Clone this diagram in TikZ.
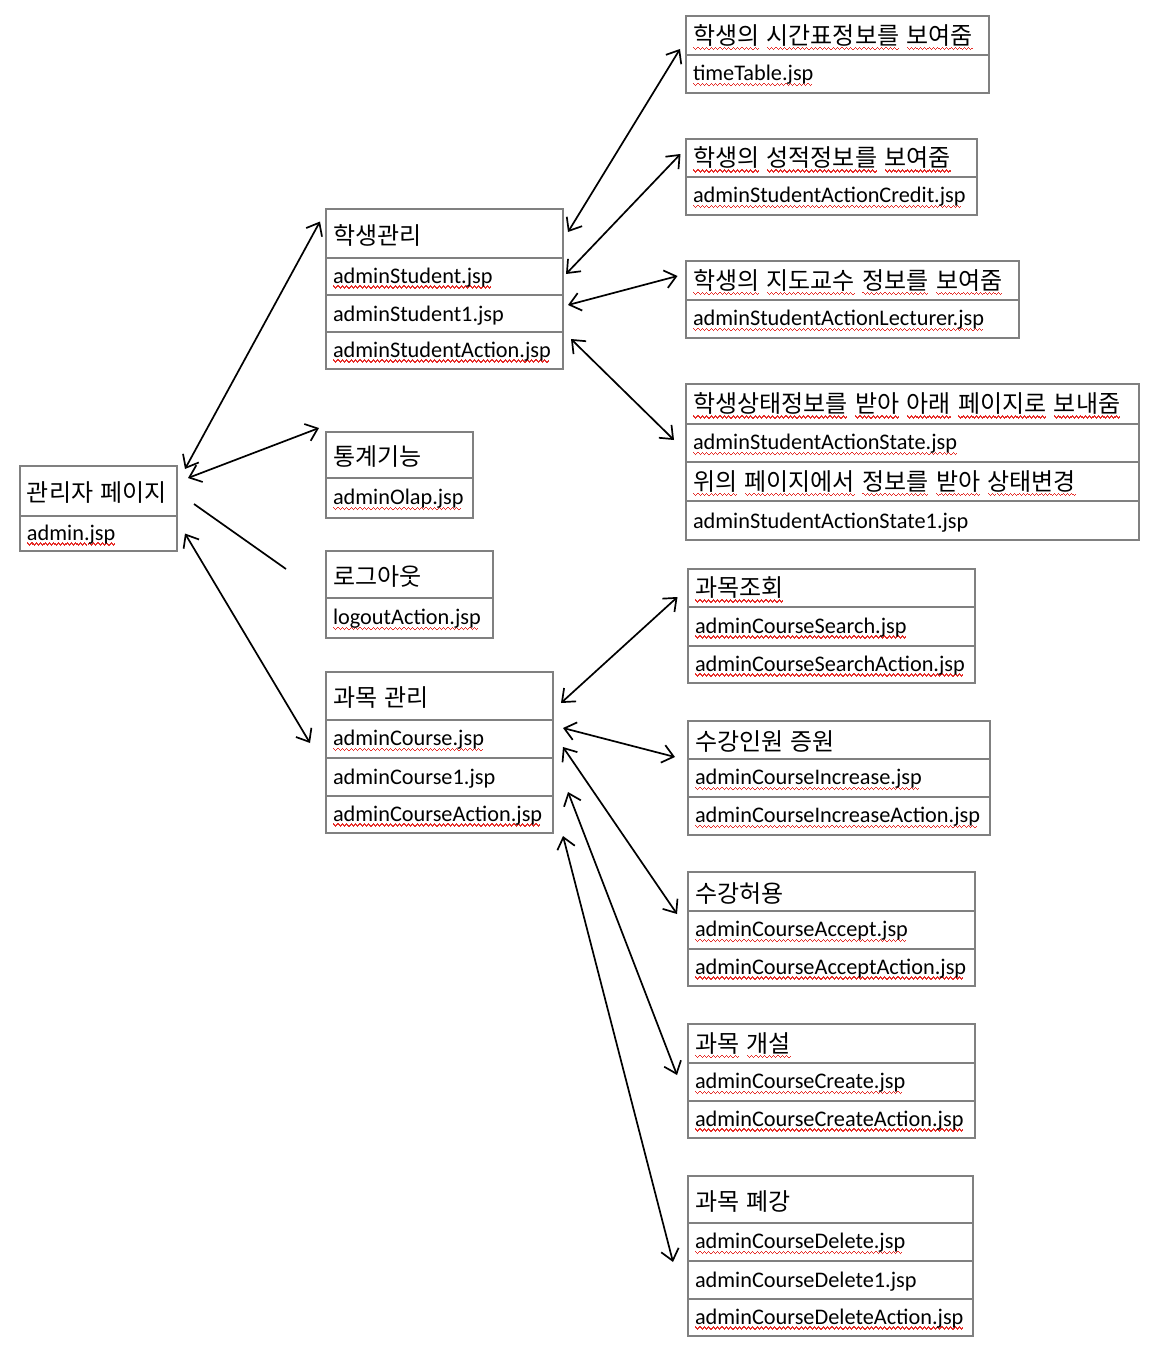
\documentclass[tikz,border=0pt]{standalone}
\usepackage{fontspec}
\setmainfont{Carlito}
\newfontfamily\krfont[WordSpace=1.8]{Noto Sans CJK KR}
\newcommand\kr{\krfont\fontsize{24pt}{28pt}\selectfont}
\usetikzlibrary{arrows.meta,calc}
\definecolor{boxgray}{RGB}{128,128,128}
\definecolor{spellred}{RGB}{230,45,40}
\newsavebox\wavebox
\sbox\wavebox{\color{spellred}%
  \vrule width 1.1pt height -2.3pt depth 3.8pt%
  \vrule width 1.1pt height -3.3pt depth 4.8pt%
  \vrule width 1.1pt height -4.3pt depth 5.8pt%
  \vrule width 1.1pt height -3.3pt depth 4.8pt}
\newbox\rutext
\newcommand\ru[1]{\setbox\rutext\hbox{#1}\rlap{\hbox to\wd\rutext{\leaders\copy\wavebox\hfill}}\box\rutext}
\tikzset{
  cell/.style={draw=boxgray, line width=2.6pt, anchor=north west, inner xsep=7pt,
    inner ysep=0pt, outer sep=0pt, align=left, font=\fontsize{22.3pt}{26pt}\selectfont},
  dbl/.style={draw=black, line width=1.7pt,
    {Straight Barb[length=11pt,width=18pt]}-{Straight Barb[length=11pt,width=18pt]}},
  plain/.style={draw=black, line width=1.7pt}
}
\newcommand\Cell[6]{\node[cell, text width=#4pt, minimum height=#5pt] (#1) at (#2,#3) {\raisebox{-1.8pt}[\height][\depth]{#6}};}
\begin{document}
\begin{tikzpicture}[x=1pt,y=-1pt]
\useasboundingbox (0,0) rectangle (1162,1354);
% admin
\Cell{A1}{20}{466}{143}{50}{{\kr 관리자 페이지}}
\Cell{A2}{20}{516}{143}{35}{\ru{admin.jsp}}
% student management
\Cell{B1}{326}{209}{223}{49}{{\kr 학생관리}}
\Cell{B2}{326}{258}{223}{37}{\ru{adminStudent.jsp}}
\Cell{B3}{326}{295}{223}{37}{adminStudent1.jsp}
\Cell{B4}{326}{332}{223}{37}{\ru{adminStudentAction.jsp}}
% statistics
\Cell{C1}{326}{432}{133}{46}{{\kr 통계기능}}
\Cell{C2}{326}{478}{133}{40}{\ru{adminOlap.jsp}}
% logout
\Cell{D1}{326}{551}{153}{47}{{\kr 로그아웃}}
\Cell{D2}{326}{598}{153}{40}{\ru{logoutAction.jsp}}
% course management
\Cell{E1}{326}{672}{213}{48}{{\kr 과목 관리}}
\Cell{E2}{326}{720}{213}{38}{\ru{adminCourse.jsp}}
\Cell{E3}{326}{758}{213}{38}{adminCourse1.jsp}
\Cell{E4}{326}{796}{213}{37}{\ru{adminCourseAction.jsp}}
% right column, student
\Cell{F1}{686}{16}{289}{39}{{\kr\ru{학생의} \ru{시간표정보를} \ru{보여줌}}}
\Cell{F2}{686}{55}{289}{38}{\ru{timeTable.jsp}}
\Cell{G1}{686}{139}{277}{38}{{\kr\ru{학생의} \ru{성적정보를} \ru{보여줌}}}
\Cell{G2}{686}{177}{277}{38}{\ru{adminStudentActionCredit.jsp}}
\Cell{H1}{686}{261}{319}{39}{{\kr\ru{학생의} \ru{지도교수} \ru{정보를} \ru{보여줌}}}
\Cell{H2}{686}{300}{319}{38}{\ru{adminStudentActionLecturer.jsp}}
\Cell{I1}{686}{384}{439}{40}{{\kr\ru{학생상태정보를} \ru{받아} \ru{아래} \ru{페이지로} \ru{보내줌}}}
\Cell{I2}{686}{424}{439}{38}{\ru{adminStudentActionState.jsp}}
\Cell{I3}{686}{462}{439}{39}{{\kr\ru{위의} \ru{페이지에서} \ru{정보를} \ru{받아} \ru{상태변경}}}
\Cell{I4}{686}{501}{439}{39}{adminStudentActionState1.jsp}
% right column, course
\Cell{J1}{688}{569}{273}{38}{{\kr\ru{과목조회}}}
\Cell{J2}{688}{607}{273}{39}{\ru{adminCourseSearch.jsp}}
\Cell{J3}{688}{646}{273}{37}{\ru{adminCourseSearchAction.jsp}}
\Cell{K1}{688}{721}{288}{38}{{\kr 수강인원 증원}}
\Cell{K2}{688}{759}{288}{38}{\ru{adminCourseIncrease.jsp}}
\Cell{K3}{688}{797}{288}{38}{\ru{adminCourseIncreaseAction.jsp}}
\Cell{L1}{688}{872}{273}{39}{{\kr 수강허용}}
\Cell{L2}{688}{911}{273}{38}{\ru{adminCourseAccept.jsp}}
\Cell{L3}{688}{949}{273}{37}{\ru{adminCourseAcceptAction.jsp}}
\Cell{M1}{688}{1024}{273}{39}{{\kr\ru{과목} \ru{개설}}}
\Cell{M2}{688}{1063}{273}{38}{\ru{adminCourseCreate.jsp}}
\Cell{M3}{688}{1101}{273}{37}{\ru{adminCourseCreateAction.jsp}}
\Cell{N1}{688}{1176}{271}{47}{{\kr 과목 폐강}}
\Cell{N2}{688}{1223}{271}{38}{\ru{adminCourseDelete.jsp}}
\Cell{N3}{688}{1261}{271}{38}{adminCourseDelete1.jsp}
\Cell{N4}{688}{1299}{271}{37}{\ru{adminCourseDeleteAction.jsp}}
% connectors from admin
\draw[dbl] ($(A1.north east)+(8,3)$) -- ($(B1.west)+(-6,-12)$);
\draw[dbl] ($(A1.east)+(11,-13)$) -- ($(C1.north west)+(-7,-4)$);
\draw[plain] ($(A1.east)+(17,13)$) -- ($(D1.west)+(-40,-5.5)$);
\draw[dbl] ($(A2.east)+(8,0)$) -- ($(E2.west)+(-16,4)$);
% connectors from student management
\draw[dbl] ($(B1.east)+(5,-1.5)$) -- ($(F1.west)+(-6,13.5)$);
\draw[dbl] ($(B2.east)+(3,-2.5)$) -- ($(G1.west)+(-5.5,-4)$);
\draw[dbl] ($(B3.east)+(5,-8.5)$) -- ($(H1.west)+(-8.5,-4.5)$);
\draw[dbl] ($(B4.east)+(8,-11.5)$) -- ($(I2.west)+(-12,-3)$);
% connectors from course management
\draw[dbl] ($(E1.east)+(8,7)$) -- ($(J1.west)+(-10.5,9)$);
\draw[dbl] ($(E2.east)+(10,-11)$) -- ($(K1.south west)+(-13,-2)$);
\draw[dbl] ($(E2.east)+(10,8)$) -- ($(L1.south west)+(-11,3)$);
\draw[dbl] ($(E3.east)+(15,15)$) -- ($(M2.west)+(-11,-7)$);
\draw[dbl] ($(E4.south east)+(10,3)$) -- ($(N2.south west)+(-15,1)$);
\end{tikzpicture}
\end{document}
